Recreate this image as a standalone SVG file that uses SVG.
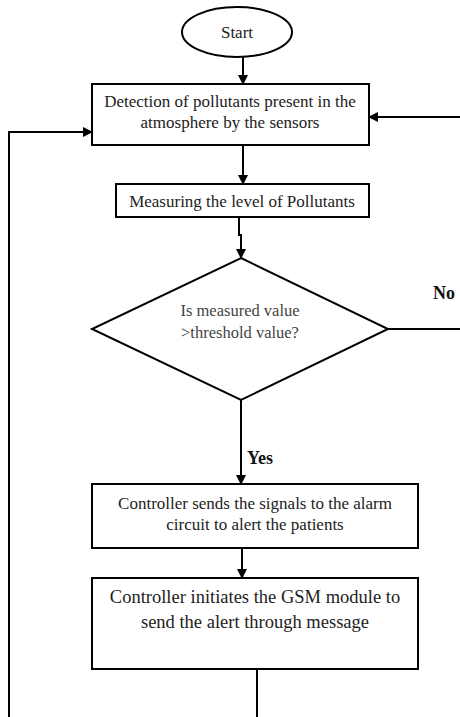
<svg xmlns="http://www.w3.org/2000/svg" width="460" height="717" viewBox="0 0 460 717">
<style>
.s{fill:#fff;stroke:#000;stroke-width:2}
.t{font-family:"Liberation Serif","Times New Roman",serif;font-size:17px;fill:#222;text-anchor:middle}
.g{font-size:18.5px}
.q{font-family:"Liberation Serif","Times New Roman",serif;font-size:16.5px;fill:#444;text-anchor:middle}
.b{font-family:"Liberation Serif","Times New Roman",serif;font-size:18px;font-weight:bold;fill:#111}
.c{fill:none;stroke:#000;stroke-width:2}
</style>
<defs>
<marker id="ah" markerWidth="10" markerHeight="10" refX="9" refY="5" orient="auto" markerUnits="userSpaceOnUse">
<path d="M0,0 L10,5 L0,10 Z" fill="#000"/>
</marker>
</defs>
<rect width="460" height="717" fill="#fff"/>
<g id="connectors">
<line class="c" x1="243" y1="57" x2="243" y2="84" marker-end="url(#ah)"/>
<line class="c" x1="243" y1="145" x2="243" y2="184" marker-end="url(#ah)"/>
<polyline class="c" points="239,218 239,235 241,235 241,258" marker-end="url(#ah)"/>
<line class="c" x1="241" y1="400" x2="241" y2="484" marker-end="url(#ah)"/>
<line class="c" x1="242" y1="548" x2="242" y2="578" marker-end="url(#ah)"/>
<polyline class="c" points="257,669 257,717"/>
<polyline class="c" points="9,717 9,132 92,132" marker-end="url(#ah)"/>
<polyline class="c" points="388,329 460,329"/>
<line class="c" x1="460" y1="117" x2="369" y2="117" marker-end="url(#ah)"/>
<text class="b" x="433" y="299">No</text>
<text class="b" x="247" y="464">Yes</text>
</g>
<g id="start">
<ellipse class="s" cx="237" cy="32" rx="55" ry="25"/>
<text class="t" x="237" y="38">Start</text>
</g>
<g id="detect">
<rect class="s" x="92" y="84" width="277" height="61"/>
<text class="t" x="230" y="107">Detection of pollutants present in the</text>
<text class="t" x="230" y="128">atmosphere by the sensors</text>
</g>
<g id="measure">
<rect class="s" x="116" y="184" width="253" height="33"/>
<text class="t" x="242" y="207">Measuring the level of Pollutants</text>
</g>
<g id="decision">
<polygon class="s" points="241,258 388,329 241,400 92,329"/>
<text class="q" x="240" y="316">Is measured value</text>
<text class="q" x="240" y="338">&gt;threshold value?</text>
</g>
<g id="alarm">
<rect class="s" x="92" y="484" width="326" height="64"/>
<text class="t" x="255" y="509">Controller sends the signals to the alarm</text>
<text class="t" x="255" y="530">circuit to alert the patients</text>
</g>
<g id="gsm">
<rect class="s" x="92" y="578" width="326" height="91"/>
<text class="t g" x="255" y="603">Controller initiates the GSM module to</text>
<text class="t g" x="255" y="628">send the alert through message</text>
</g>
</svg>
